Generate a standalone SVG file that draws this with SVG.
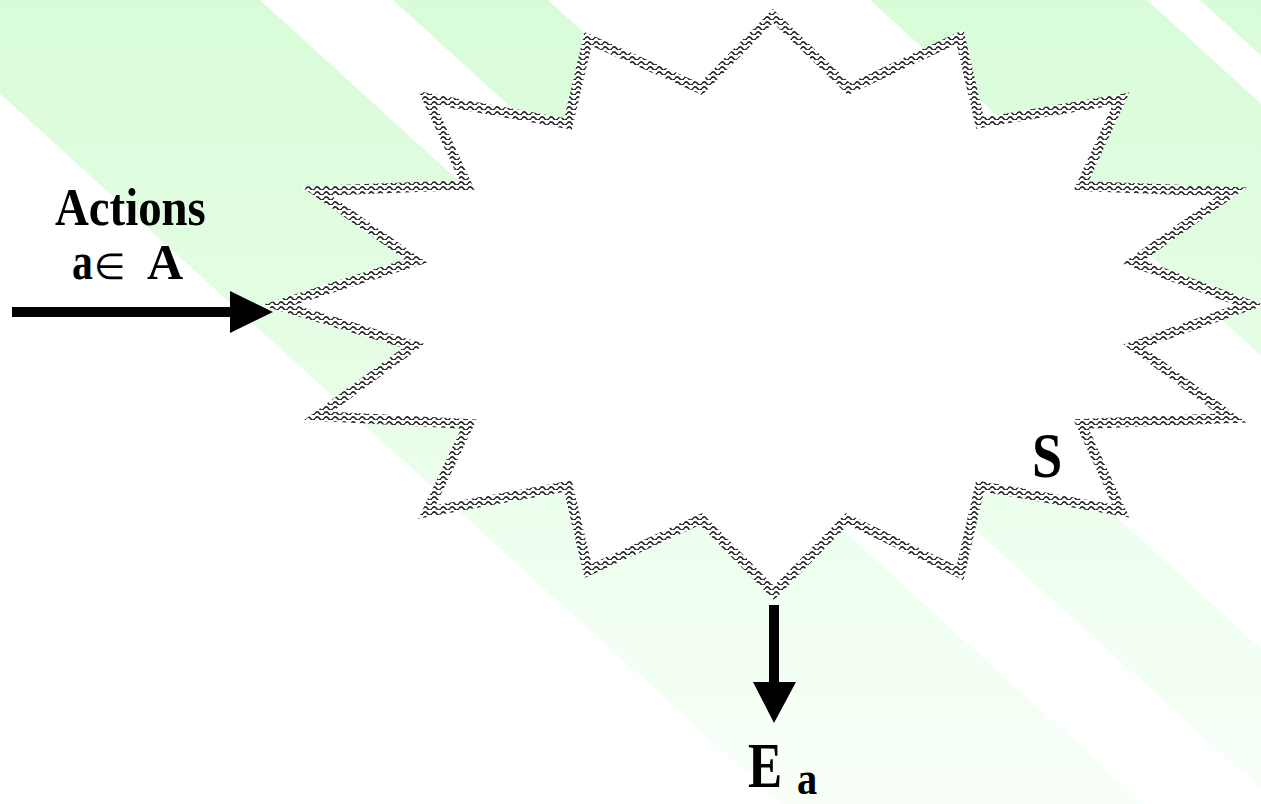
<svg xmlns="http://www.w3.org/2000/svg" width="1261" height="804" viewBox="0 0 1261 804">
  <style>
    .lbl { font-family: "Liberation Serif", "Times New Roman", serif; font-weight: bold; fill: #000; }
    .band { fill: url(#fade); }
    .arrow { fill: #000; stroke: none; }
  </style>
  <defs>
    <linearGradient id="fade" gradientUnits="userSpaceOnUse" x1="0" y1="0" x2="0" y2="804">
      <stop offset="0" stop-color="#d8fcd8"/>
      <stop offset="0.4" stop-color="#e4fde4"/>
      <stop offset="0.75" stop-color="#f1fff1"/>
      <stop offset="1" stop-color="#f8fff8"/>
    </linearGradient>
    <pattern id="wave" patternUnits="userSpaceOnUse" width="9" height="5">
      <rect width="9" height="5" fill="#ffffff"/>
      <path d="M0,3.5 Q2.25,0.3 4.5,3.5 T9,3.5" fill="none" stroke="#222222" stroke-width="1.6"/>
    </pattern>
  </defs>

  <rect width="1261" height="804" fill="#ffffff"/>
  <g id="background">
    <polygon class="band" points="-103,0 260,0 1144,804 781,804"/>
    <polygon class="band" points="393,0 548,0 1432,804 1277,804"/>
    <polygon class="band" points="870,0 1147,0 2031,804 1754,804"/>
    <polygon class="band" points="1200,0 1600,0 2484,804 2084,804"/>
  </g>

  <g id="system">
    <polygon fill="#ffffff" stroke="url(#wave)" stroke-width="10" stroke-linejoin="miter" stroke-miterlimit="10"
      points="773,16 849,89 960,37 980,123 1121,99 1081,186 1232,192 1133,262 1250,305 1134,346 1232,418 1081,424 1121,511 980,486 960,573 847,519 774,593 701,519 588,571 568,486 427,512 469,424 318,416 414,346 278,305 416,261 316,191 467,185 427,98 568,124 588,39 701,89"/>
    <text class="lbl" font-size="64" transform="translate(1032,477) scale(0.85,1)">S</text>
  </g>

  <g id="actions-label">
    <text class="lbl" font-size="52" transform="translate(55,225) scale(0.9,1)">Actions</text>
    <text class="lbl" font-size="52" transform="translate(72,279) scale(0.8,1)">a</text>
    <text font-family="Liberation Serif, serif" font-size="36" transform="translate(94,279)">∈</text>
    <text class="lbl" font-size="50" transform="translate(147,279)">A</text>
  </g>

  <g id="output-label">
    <text class="lbl" font-size="64" transform="translate(748,787) scale(0.8,1)">E</text>
    <text class="lbl" font-size="46" transform="translate(797,794) scale(0.88,1)">a</text>
  </g>

  <g id="connectors">
    <rect class="arrow" x="12" y="307" width="220" height="10"/>
    <polygon class="arrow" points="230,291 273,312 230,333"/>
    <rect class="arrow" x="769" y="605" width="10" height="79"/>
    <polygon class="arrow" points="753,682 796,682 774,723"/>
  </g>
</svg>
